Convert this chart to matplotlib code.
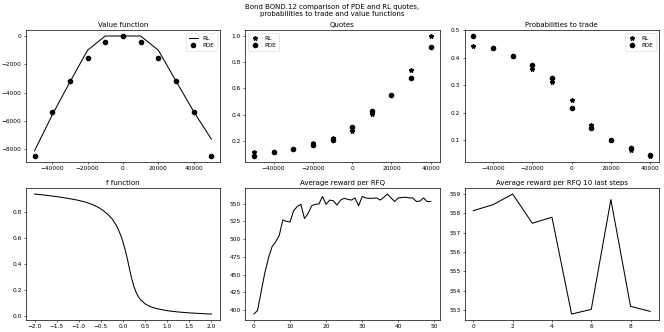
import matplotlib
matplotlib.use("Agg")
import matplotlib.pyplot as plt

# ---- data ----
inventory = [-50000, -40000, -30000, -20000, -10000, 0, 10000, 20000, 30000, 40000, 50000]
value_rl = [-8100, -5570, -3250, -1000, 0, 0, 0, -1000, -3180, -5330, -7280]
value_pde = [-8470, -5380, -3180, -1545, -445, 0, -445, -1545, -3180, -5380, -8470]

quote_inv = [-50000, -40000, -30000, -20000, -10000, 0, 10000, 20000, 30000, 40000]
quotes_rl = [0.114, 0.116, 0.139, 0.180, 0.220, 0.276, 0.408, 0.549, 0.739, 1.000]
quotes_pde = [0.084, 0.116, 0.139, 0.165, 0.205, 0.306, 0.428, 0.549, 0.678, 0.914]

prob_rl = [0.443, 0.436, 0.408, 0.358, 0.311, 0.245, 0.154, 0.100, 0.065, 0.042]
prob_pde = [0.479, 0.436, 0.408, 0.374, 0.325, 0.217, 0.143, 0.100, 0.073, 0.047]

f_x = [-2.0, -1.75, -1.5, -1.25, -1.0, -0.85, -0.7, -0.55, -0.45, -0.35, -0.25, -0.15,
       -0.1, -0.05, 0.0, 0.05, 0.1, 0.15, 0.2, 0.25, 0.3, 0.35, 0.4, 0.5, 0.6,
       0.75, 1.0, 1.25, 1.5, 1.75, 2.0]
f_y = [0.942, 0.933, 0.922, 0.909, 0.893, 0.880, 0.862, 0.838, 0.815, 0.787, 0.752, 0.700,
       0.665, 0.622, 0.572, 0.510, 0.440, 0.360, 0.285, 0.225, 0.180, 0.147, 0.124, 0.093, 0.074,
       0.057, 0.040, 0.030, 0.023, 0.018, 0.014]

reward = [394.4, 399.5, 426, 452, 473, 489, 496, 505, 527, 525,
          524, 540, 546, 549, 529, 536, 547, 549, 549.5, 560,
          549, 555, 554, 548, 555, 557.5, 556, 555, 558, 547,
          560, 558, 557.5, 557.5, 558, 555, 559, 563.5, 558, 553,
          558, 558.5, 559, 558, 558, 553, 553.5, 558, 553, 553]

reward_last = [558.14, 558.45, 559.0, 557.49, 557.8, 552.79, 553.03, 558.71, 553.19, 552.93]

# ---- style ----
TICK = 4.2
TITLE = 5.0
LW = 0.75
plt.rcParams.update({
    "font.family": "DejaVu Sans",
    "xtick.labelsize": TICK, "ytick.labelsize": TICK,
    "xtick.major.size": 1.4, "ytick.major.size": 1.4,
    "xtick.major.width": 0.4, "ytick.major.width": 0.4,
    "xtick.major.pad": 1.6, "ytick.major.pad": 1.6,
    "axes.linewidth": 0.5,
    "axes.titlesize": TITLE, "axes.titlepad": 2.5,
})

fig, axes = plt.subplots(2, 3, figsize=(6.64, 3.32), dpi=100)
fig.subplots_adjust(left=0.0387, right=0.9925, top=0.9096, bottom=0.036,
                    wspace=0.128, hspace=0.197)

def leg(ax, loc):
    lg = ax.legend(fontsize=TICK, loc=loc, handlelength=1.6, borderpad=0.45,
                   labelspacing=0.45, handletextpad=0.8)
    lg.get_frame().set_linewidth(0.4)

ax = axes[0, 0]
ax.plot(inventory, value_rl, color="black", lw=LW, label="RL")
ax.plot(inventory, value_pde, "o", color="black", ms=3.0, label="PDE")
ax.set_title("Value function")
leg(ax, "upper right")

ax = axes[0, 1]
ax.plot(quote_inv, quotes_rl, "*", color="black", ms=3.2, label="RL")
ax.plot(quote_inv, quotes_pde, "o", color="black", ms=3.0, label="PDE")
ax.set_title("Quotes")
leg(ax, "upper left")

ax = axes[0, 2]
ax.plot(quote_inv, prob_rl, "*", color="black", ms=3.2, label="RL")
ax.plot(quote_inv, prob_pde, "o", color="black", ms=3.0, label="PDE")
ax.set_title("Probabilities to trade")
leg(ax, "upper right")

ax = axes[1, 0]
ax.plot(f_x, f_y, color="black", lw=LW)
ax.set_title("f function")

ax = axes[1, 1]
ax.plot(range(len(reward)), reward, color="black", lw=LW)
ax.set_title("Average reward per RFQ")

ax = axes[1, 2]
ax.plot(range(len(reward_last)), reward_last, color="black", lw=LW)
ax.set_title("Average reward per RFQ 10 last steps")

fig.suptitle("Bond BOND.12 comparison of PDE and RL quotes,\nprobabilities to trade and value functions",
             fontsize=5.0, y=0.988, va="top", linespacing=1.15)

fig.savefig("out.png", dpi=100)
